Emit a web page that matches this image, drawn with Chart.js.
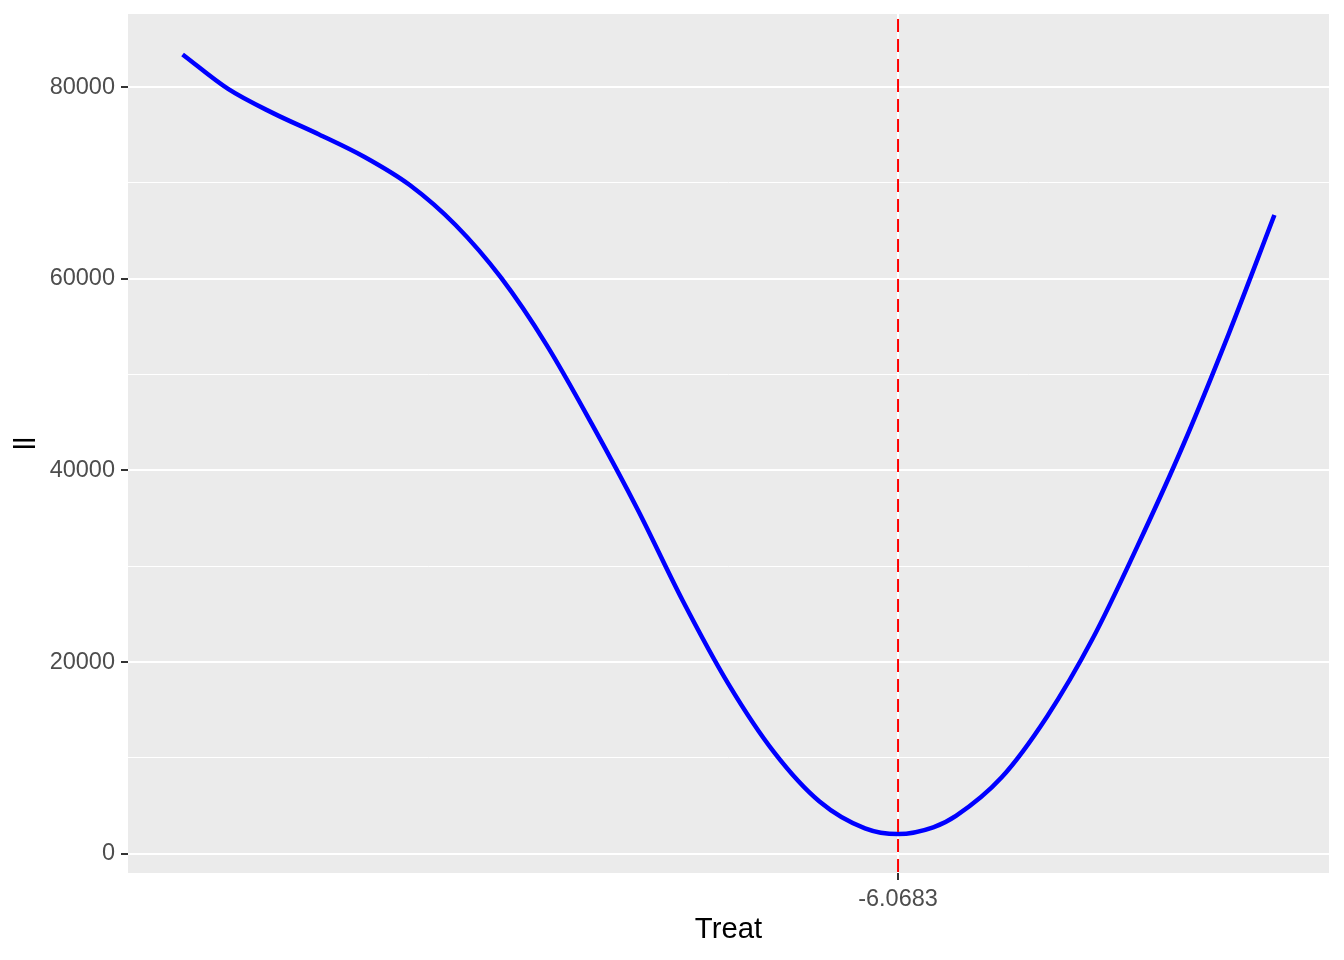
<!DOCTYPE html>
<html>
<head>
<meta charset="utf-8">
<script src="https://cdn.jsdelivr.net/npm/chart.js@4/dist/chart.umd.min.js"></script>
<style>
  html, body { margin: 0; padding: 0; background: #ffffff; }
  #plot { display: block; }
</style>
</head>
<body>
<canvas id="plot" width="1344" height="960"></canvas>
<script>
// curve (Treat vs ll)
const treat = [-10, -9.75, -9.5, -9.25, -9, -8.75, -8.5, -8.25, -8, -7.75, -7.5, -7.25, -7,
               -6.75, -6.5, -6.25, -6.0683, -5.875, -5.75, -5.5, -5.25, -5, -4.75, -4.5, -4.25, -4];
const ll = [83400, 79800, 77250, 75050, 72700, 69750, 65600, 60100, 53100, 44800, 35950, 26350, 17700,
            10600, 5450, 2650, 2050, 2750, 3950, 7950, 14300, 22400, 32200, 42700, 54300, 66650];

const vlineX = -6.0683;
const xTicks = [-6.0683];
const xTickLabels = ['-6.0683'];
const yGrid = [0, 10000, 20000, 30000, 40000, 50000, 60000, 70000, 80000];
const yMajor = [0, 20000, 40000, 60000, 80000];

const FONT = "'Liberation Sans', Arial, sans-serif";

function isMajor(ctx) {
    return ctx.tick && yMajor.includes(ctx.tick.value);
}

// grey panel behind everything
const panelBg = {
    id: 'panelBg',
    beforeDraw(chart) {
        const { ctx, chartArea } = chart;
        ctx.save();
        ctx.fillStyle = '#ffffff';
        ctx.fillRect(0, 0, chart.width, chart.height);
        ctx.fillStyle = '#EBEBEB';
        ctx.fillRect(chartArea.left, chartArea.top, chartArea.right - chartArea.left, chartArea.bottom - chartArea.top);
        ctx.restore();
    }
};

// red dashed line at the minimum
const vline = {
    id: 'vline',
    afterDatasetsDraw(chart) {
        const { ctx, chartArea, scales } = chart;
        const x = scales.x.getPixelForValue(vlineX);
        ctx.save();
        ctx.strokeStyle = '#FF0000';
        ctx.lineWidth = 2;
        ctx.setLineDash([13, 7]);
        ctx.lineDashOffset = 15;
        ctx.beginPath();
        ctx.moveTo(x, chartArea.top);
        ctx.lineTo(x, chartArea.bottom);
        ctx.stroke();
        ctx.restore();
    }
};

function noPad(scale) {
    scale.paddingTop = 0;
    scale.paddingBottom = 0;
    scale.paddingLeft = 0;
    scale.paddingRight = 0;
}

new Chart(document.getElementById('plot'), {
    type: 'line',
    data: {
        datasets: [{
            data: treat.map((t, i) => ({ x: t, y: ll[i] })),
            borderColor: '#0000FF',
            borderWidth: 4.5,
            pointRadius: 0,
            fill: false,
            cubicInterpolationMode: 'monotone'
        }]
    },
    options: {
        responsive: false,
        animation: false,
        events: [],
        layout: { padding: { left: 0, top: 14, right: 15, bottom: 0 } },
        plugins: {
            legend: { display: false },
            tooltip: { enabled: false }
        },
        scales: {
            x: {
                type: 'linear',
                min: -10.3,
                max: -3.7,
                afterBuildTicks: (scale) => { scale.ticks = xTicks.map(v => ({ value: v })); },
                afterFit: (scale) => { scale.height = 87; noPad(scale); },
                border: { display: false },
                grid: {
                    color: '#FFFFFF',
                    lineWidth: 2,
                    tickColor: '#333333',
                    tickWidth: 2,
                    tickLength: 7
                },
                ticks: {
                    autoSkip: false,
                    maxRotation: 0,
                    padding: 5,
                    color: '#4D4D4D',
                    font: { family: FONT, size: 23.5 },
                    callback: (v, i) => xTickLabels[i]
                },
                title: {
                    display: true,
                    text: 'Treat',
                    color: '#000000',
                    font: { family: FONT, size: 29.3, lineHeight: 1 },
                    padding: { top: 0, bottom: 15 }
                }
            },
            y: {
                type: 'linear',
                min: -2014,
                max: 87620,
                afterBuildTicks: (scale) => { scale.ticks = yGrid.map(v => ({ value: v })); },
                afterFit: (scale) => { scale.width = 128; noPad(scale); },
                border: { display: false },
                grid: {
                    color: '#FFFFFF',
                    lineWidth: (ctx) => isMajor(ctx) ? 2 : 1,
                    tickColor: (ctx) => isMajor(ctx) ? '#333333' : 'rgba(0,0,0,0)',
                    tickWidth: 2,
                    tickLength: 7
                },
                ticks: {
                    autoSkip: false,
                    padding: 6,
                    color: '#4D4D4D',
                    font: { family: FONT, size: 23.5 },
                    callback: (v) => yMajor.includes(v) ? String(v) : ''
                },
                title: {
                    display: true,
                    text: 'll',
                    color: '#000000',
                    font: { family: FONT, size: 29.3, lineHeight: 1 },
                    padding: { top: 12, bottom: 0 }
                }
            }
        }
    },
    plugins: [panelBg, vline]
});
</script>
</body>
</html>
